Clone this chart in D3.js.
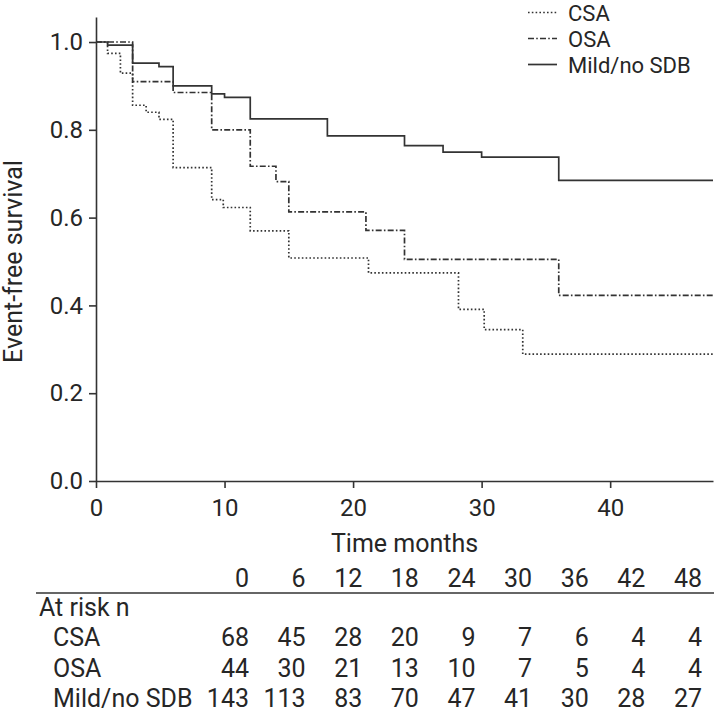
<!DOCTYPE html>
<html>
<head>
<meta charset="utf-8">
<script src="https://cdn.jsdelivr.net/npm/d3@7"></script>
<style>
  body { margin: 0; background: #fff; }
  svg { display: block; font-family: Roboto, "Noto Sans", sans-serif; }
  text { fill: #262626; }
</style>
</head>
<body>
<svg id="chart" width="719" height="720"></svg>
<script>
// Kaplan-Meier steps (months, survival)
const csaTimes = [0, 0.9, 1.9, 2.85, 3.9, 4.9, 6, 9, 9.9, 12, 15, 21.2, 28.2, 30.2, 33.2];
const csaSurv = [1.0, 0.974, 0.929, 0.856, 0.84, 0.824, 0.714, 0.641, 0.623, 0.57, 0.508, 0.474, 0.391, 0.345, 0.289];
const osaTimes = [0, 2.85, 6, 9, 12, 14, 15, 21, 24, 36];
const osaSurv = [1.0, 0.91, 0.885, 0.8, 0.717, 0.682, 0.613, 0.571, 0.505, 0.423];
const mildTimes = [0, 0.9, 2.85, 4.9, 6, 9, 10, 12, 18, 24, 27, 30, 36];
const mildSurv = [1.0, 0.993, 0.952, 0.944, 0.9, 0.882, 0.874, 0.825, 0.786, 0.764, 0.749, 0.738, 0.685];
const endMonth = 48;

const seriesNames = ["CSA", "OSA", "Mild/no SDB"];
const xTicks = [0, 10, 20, 30, 40];
const yTicks = [0, 0.2, 0.4, 0.6, 0.8, 1.0];

// number at risk table
const riskTimes = [0, 6, 12, 18, 24, 30, 36, 42, 48];
const riskCsa = [68, 45, 28, 20, 9, 7, 6, 4, 4];
const riskOsa = [44, 30, 21, 13, 10, 7, 5, 4, 4];
const riskMild = [143, 113, 83, 70, 47, 41, 30, 28, 27];

const margin = { top: 17, left: 96, right: 6, bottom: 239 };
const width = 719, height = 720;
const ink = "#333";

const svg = d3.select("#chart");

const x = d3.scaleLinear().domain([0, 48]).range([margin.left, width - margin.right]);
const y = d3.scaleLinear().domain([0, 1.057]).range([height - margin.bottom, margin.top]);

// axes
const xAxis = svg.append("g")
  .attr("transform", `translate(0, ${y(0)})`)
  .call(d3.axisBottom(x).tickValues(xTicks).tickSize(7).tickPadding(10.5).tickSizeOuter(0));
const yAxis = svg.append("g")
  .attr("transform", `translate(${x(0)}, 0)`)
  .call(d3.axisLeft(y).tickValues(yTicks).tickFormat(d3.format(".1f")).tickSize(7).tickPadding(6).tickSizeOuter(0));

[xAxis, yAxis].forEach(a => {
  a.select(".domain").attr("stroke", ink).attr("stroke-width", 1.6);
  a.selectAll(".tick line").attr("stroke", ink).attr("stroke-width", 1.6);
  a.selectAll(".tick text").attr("font-size", 24).attr("font-family", "Roboto").attr("fill", "#262626");
});

svg.append("text")
  .attr("x", (x(0) + x(48)) / 2)
  .attr("y", 551.5)
  .attr("text-anchor", "middle")
  .attr("font-size", 25)
  .text("Time months");

svg.append("text")
  .attr("transform", `translate(21.5, ${(y(0) + y(1)) / 2}) rotate(-90)`)
  .attr("text-anchor", "middle")
  .attr("font-size", 25)
  .text("Event-free survival");

// curves
const dashes = ["1.6,2.2", "6,2.2,1.6,2.2", null];
const series = [
  { times: csaTimes, surv: csaSurv },
  { times: osaTimes, surv: osaSurv },
  { times: mildTimes, surv: mildSurv }
];

const line = d3.line()
  .x(d => x(d[0]))
  .y(d => y(d[1]))
  .curve(d3.curveStepAfter);

series.forEach((s, i) => {
  const pts = s.times.map((t, j) => [t, s.surv[j]]);
  pts.push([endMonth, s.surv[s.surv.length - 1]]);
  svg.append("path")
    .datum(pts)
    .attr("fill", "none")
    .attr("stroke", ink)
    .attr("stroke-width", 1.7)
    .attr("stroke-dasharray", dashes[i])
    .attr("d", line);
});

// legend (rows kept tight like the reference, just clear of each other)
const legendY = d3.scalePoint().domain(seriesNames).range([12.5, 64.5]);
const legend = svg.append("g");
seriesNames.forEach((name, i) => {
  legend.append("line")
    .attr("x1", 528).attr("x2", 557)
    .attr("y1", legendY(name)).attr("y2", legendY(name))
    .attr("stroke", ink)
    .attr("stroke-width", 1.7)
    .attr("stroke-dasharray", dashes[i]);
  legend.append("text")
    .attr("x", 568)
    .attr("y", legendY(name) + 8)
    .attr("font-size", 22)
    .text(name);
});

// at-risk table
const col = d3.scalePoint().domain(riskTimes).range([249, 702]);
const table = svg.append("g").attr("font-size", 25);

table.selectAll("text.head")
  .data(riskTimes)
  .join("text")
  .attr("class", "head")
  .attr("x", d => col(d))
  .attr("y", 587)
  .attr("text-anchor", "end")
  .text(d => d);

table.append("line")
  .attr("x1", 36).attr("x2", 714)
  .attr("y1", 593).attr("y2", 593)
  .attr("stroke", ink)
  .attr("stroke-width", 1.6);

table.append("text").attr("x", 39).attr("y", 616).text("At risk n");

const rows = [riskCsa, riskOsa, riskMild];
const rowY = d3.scalePoint().domain(seriesNames).range([646, 707]);
rows.forEach((vals, i) => {
  const ry = rowY(seriesNames[i]);
  table.append("text").attr("x", 53).attr("y", ry).text(seriesNames[i]);
  vals.forEach((v, j) => {
    table.append("text")
      .attr("x", col(riskTimes[j]))
      .attr("y", ry)
      .attr("text-anchor", "end")
      .text(v);
  });
});
</script>
</body>
</html>
